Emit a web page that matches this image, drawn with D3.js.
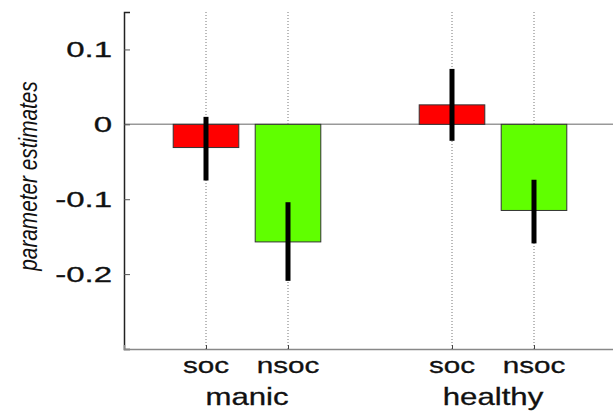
<!DOCTYPE html>
<html><head><meta charset="utf-8">
<script src="https://cdn.jsdelivr.net/npm/d3@7"></script>
<style>body{margin:0;background:#fff}svg{display:block}</style>
</head><body>
<svg id="c" width="613" height="414"></svg>
<script>
const groups = ["manic", "healthy"];
const conditions = ["soc", "nsoc", "soc", "nsoc"];
const positions = [1, 2, 4, 5];
const values = [-0.031, -0.157, 0.026, -0.115];
const errLow = [-0.075, -0.209, -0.022, -0.159];
const errHigh = [0.010, -0.104, 0.074, -0.074];
const barColors = ["#ff0000", "#60ff00", "#ff0000", "#60ff00"];
const yTicks = [0.1, 0, -0.1, -0.2];
const yTickLabels = ["0.1", "0", "-0.1", "-0.2"];
const groupCenters = [1.5, 4.5];

const svg = d3.select("#c");
const x = d3.scaleLinear().domain([0, 6]).range([124, 616]);
const y = d3.scaleLinear().domain([-0.3, 0.15]).range([349, 12]);
const bw = x(0.8) - x(0);
const font = "'Liberation Sans', Arial, Helvetica, sans-serif";

// dotted vertical grid at categories
svg.selectAll("line.grid").data(positions).join("line")
  .attr("x1", d => x(d)).attr("x2", d => x(d))
  .attr("y1", y(0.15)).attr("y2", y(-0.3))
  .attr("stroke", "#777").attr("stroke-width", 1).attr("stroke-dasharray", "1,2");

// zero line
svg.append("line").attr("x1", x(0)).attr("x2", x(6))
  .attr("y1", y(0)).attr("y2", y(0)).attr("stroke", "#999").attr("stroke-width", 1.5);

// bars
svg.selectAll("rect.bar").data(values).join("rect")
  .attr("x", (d, i) => x(positions[i]) - bw / 2)
  .attr("width", bw)
  .attr("y", d => y(Math.max(0, d)))
  .attr("height", d => Math.abs(y(d) - y(0)))
  .attr("fill", (d, i) => barColors[i])
  .attr("stroke", "#333").attr("stroke-width", 1);

// error bars
svg.selectAll("line.err").data(values).join("line")
  .attr("x1", (d, i) => x(positions[i])).attr("x2", (d, i) => x(positions[i]))
  .attr("y1", (d, i) => y(errHigh[i])).attr("y2", (d, i) => y(errLow[i]))
  .attr("stroke", "#000").attr("stroke-width", 5);

// left axis
const yAxis = d3.axisLeft(y).tickValues(yTicks).tickSize(-6).tickFormat("");
const gy = svg.append("g").attr("transform", `translate(${x(0)},0)`).call(yAxis);
gy.select(".domain").attr("stroke", "#222").attr("stroke-width", 1.5);
gy.selectAll(".tick line").attr("stroke", "#555");

svg.selectAll("text.ytl").data(yTicks).join("text")
  .attr("transform", d => `translate(112,${y(d)}) scale(1.5,1)`)
  .attr("dy", "0.35em").attr("text-anchor", "end")
  .attr("font-family", font).attr("font-size", 22).attr("fill", "#111")
  .attr("stroke", "#111").attr("stroke-width", 0.3)
  .text((d, i) => yTickLabels[i]);

// bottom axis
const xAxis = d3.axisBottom(x).tickValues(positions).tickSize(-4).tickFormat("");
const gx = svg.append("g").attr("transform", `translate(0,${y(-0.3)})`).call(xAxis);
gx.select(".domain").attr("stroke", "#888").attr("stroke-width", 1.5);
gx.selectAll(".tick line").attr("stroke", "#444");

svg.selectAll("text.xtl").data(conditions).join("text")
  .attr("transform", (d, i) => `translate(${x(positions[i])},373) scale(1.35,1)`)
  .attr("text-anchor", "middle")
  .attr("font-family", font).attr("font-size", 22).attr("fill", "#111")
  .attr("stroke", "#111").attr("stroke-width", 0.3)
  .text(d => d);

svg.selectAll("text.grp").data(groups).join("text")
  .attr("transform", (d, i) => `translate(${x(groupCenters[i])},405) scale(1.3,1)`)
  .attr("text-anchor", "middle")
  .attr("font-family", font).attr("font-size", 24).attr("fill", "#111")
  .attr("stroke", "#111").attr("stroke-width", 0.3)
  .text(d => d);

// y label
svg.append("text")
  .attr("transform", "translate(37,176) rotate(-90) scale(0.8,1)")
  .attr("text-anchor", "middle")
  .attr("font-family", font).attr("font-style", "italic").attr("font-size", 26).attr("fill", "#111")
  .text("parameter estimates");
</script>
</body></html>
